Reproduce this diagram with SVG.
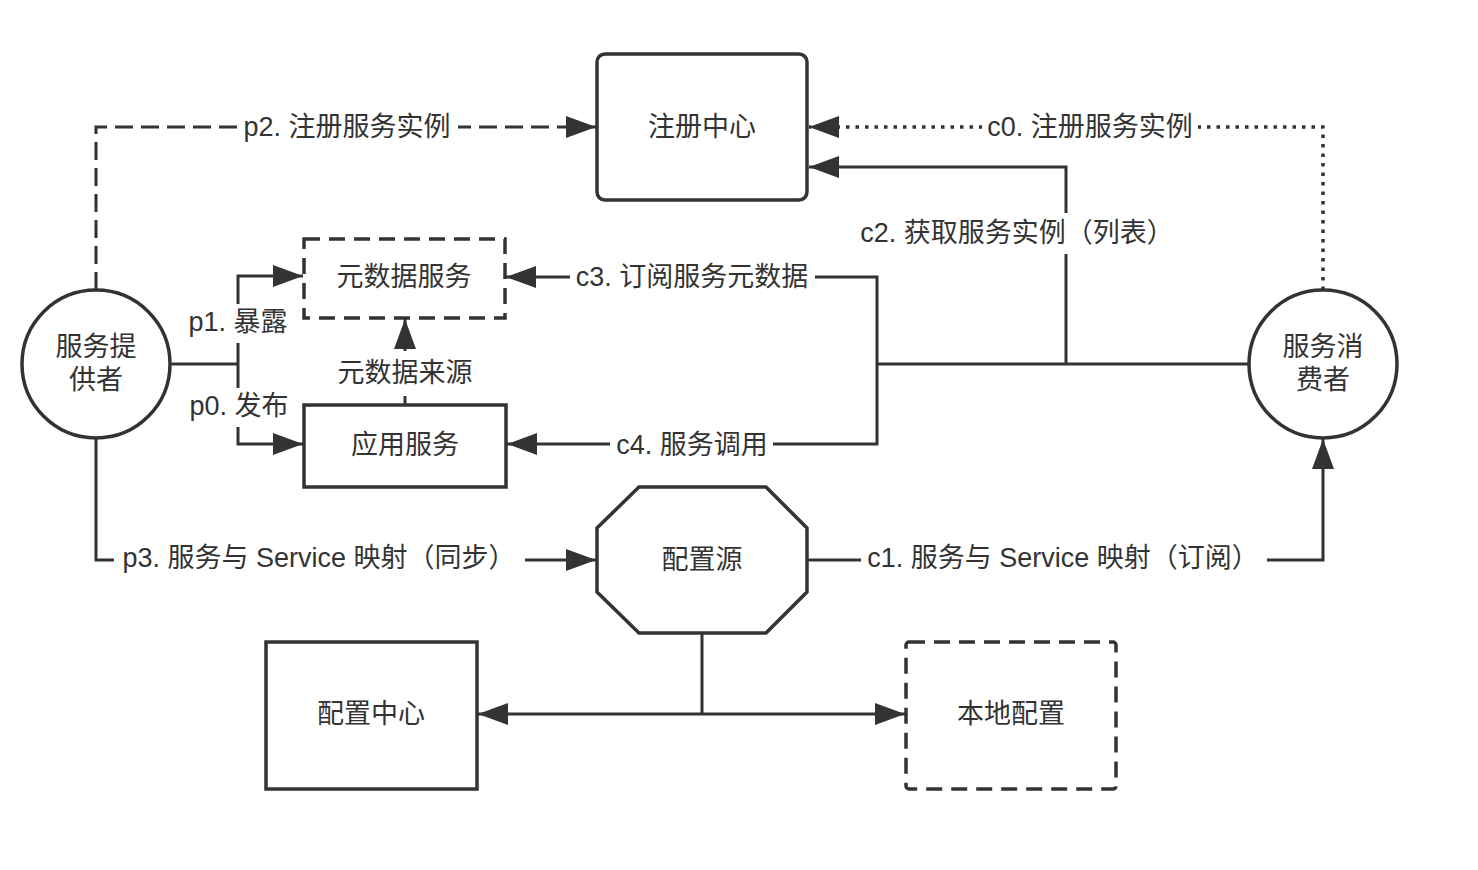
<svg xmlns="http://www.w3.org/2000/svg" width="1478" height="870" viewBox="0 0 1478 870">
<style>
  .shape { fill: #fff; stroke: #333; stroke-width: 3.5; }
  .dashed { stroke-dasharray: 16 9; }
  .txt { font-family: "Liberation Sans", "Noto Sans CJK SC", sans-serif; font-size: 27px; fill: #333; text-anchor: middle; dominant-baseline: central; }
  .ln { fill: none; stroke: #333; stroke-width: 3; }
  .ln-dash { stroke-dasharray: 18 8; }
  .ln-dot { stroke-dasharray: 3.5 6; stroke-width: 3.5; }
  .bg { fill: #fff; stroke: none; }
</style>
<defs>
  <marker id="arr" markerUnits="userSpaceOnUse" markerWidth="30" markerHeight="22" refX="30" refY="11" orient="auto">
    <path d="M0,0 L30,11 L0,22 Z" fill="#333"/>
  </marker>
</defs>
<rect width="1478" height="870" fill="#fff"/>

<g id="connectors">
  <path class="ln ln-dash" d="M96,290 V127 H596" marker-end="url(#arr)"/>
  <path class="ln ln-dot" d="M1323,290 V127 H809" marker-end="url(#arr)"/>
  <path class="ln" d="M1066,364 V167 H809" marker-end="url(#arr)"/>
  <path class="ln" d="M1249,364 H877"/>
  <path class="ln" d="M877,364 V277 H506" marker-end="url(#arr)"/>
  <path class="ln" d="M877,364 V444 H507" marker-end="url(#arr)"/>
  <path class="ln" d="M170,364 H238"/>
  <path class="ln" d="M238,364 V276 H303" marker-end="url(#arr)"/>
  <path class="ln" d="M238,364 V444 H303" marker-end="url(#arr)"/>
  <path class="ln" d="M405,404 V319" marker-end="url(#arr)"/>
  <path class="ln" d="M96,438 V560 H596" marker-end="url(#arr)"/>
  <path class="ln" d="M808,560 H1323 V439" marker-end="url(#arr)"/>
  <path class="ln" d="M702,633 V714"/>
  <path class="ln" d="M702,714 H478" marker-end="url(#arr)"/>
  <path class="ln" d="M702,714 H905" marker-end="url(#arr)"/>

  <rect class="bg" x="237" y="112" width="221" height="30"/>
  <text class="txt" x="347" y="127">p2. 注册服务实例</text>
  <rect class="bg" x="982" y="112" width="216" height="30"/>
  <text class="txt" x="1090" y="127">c0. 注册服务实例</text>
  <rect class="bg" x="860" y="213" width="315" height="41"/>
  <text class="txt" x="1017" y="233">c2. 获取服务实例（列表）</text>
  <rect class="bg" x="570" y="262" width="245" height="30"/>
  <text class="txt" x="692" y="277">c3. 订阅服务元数据</text>
  <rect class="bg" x="610" y="429" width="163" height="30"/>
  <text class="txt" x="692" y="445">c4. 服务调用</text>
  <rect class="bg" x="185" y="304" width="107" height="39"/>
  <text class="txt" x="238" y="322">p1. 暴露</text>
  <rect class="bg" x="185" y="388" width="108" height="39"/>
  <text class="txt" x="239" y="406">p0. 发布</text>
  <rect class="bg" x="335" y="351" width="141" height="45"/>
  <text class="txt" x="405" y="373">元数据来源</text>
  <rect class="bg" x="114" y="543" width="411" height="32"/>
  <text class="txt" x="319" y="558">p3. 服务与 Service 映射（同步）</text>
  <rect class="bg" x="861" y="543" width="406" height="32"/>
  <text class="txt" x="1063" y="558">c1. 服务与 Service 映射（订阅）</text>
</g>

<g id="registry">
  <rect class="shape" x="597" y="54" width="210" height="146" rx="8"/>
  <text class="txt" x="702" y="127">注册中心</text>
</g>
<g id="metadata-service">
  <rect class="shape dashed" x="304" y="239" width="201" height="79"/>
  <text class="txt" x="404" y="277">元数据服务</text>
</g>
<g id="app-service">
  <rect class="shape" x="304" y="405" width="202" height="82"/>
  <text class="txt" x="405" y="445">应用服务</text>
</g>
<g id="provider">
  <circle class="shape" cx="96" cy="364" r="74"/>
  <text class="txt" x="96" y="347">服务提</text>
  <text class="txt" x="96" y="380">供者</text>
</g>
<g id="consumer">
  <circle class="shape" cx="1323" cy="364" r="74"/>
  <text class="txt" x="1323" y="347">服务消</text>
  <text class="txt" x="1323" y="380">费者</text>
</g>
<g id="config-source">
  <polygon class="shape" points="639,487 766,487 807,528 807,592 766,633 639,633 597,592 597,528"/>
  <text class="txt" x="702" y="560">配置源</text>
</g>
<g id="config-center">
  <rect class="shape" x="266" y="642" width="211" height="147"/>
  <text class="txt" x="371" y="714">配置中心</text>
</g>
<g id="local-config">
  <rect class="shape dashed" x="906" y="642" width="210" height="147" rx="3"/>
  <text class="txt" x="1011" y="714">本地配置</text>
</g>
</svg>
